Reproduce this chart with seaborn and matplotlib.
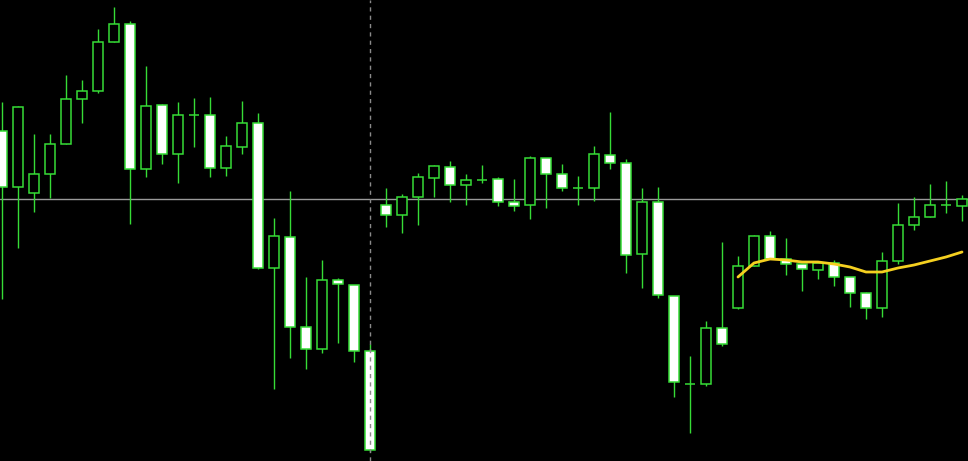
import numpy as np
import pandas as pd
import matplotlib
matplotlib.use("Agg")
import matplotlib.pyplot as plt
import seaborn as sns

# OHLC (price units, higher = up), one entry per bar
opens = [330, 274, 268, 287, 317, 362, 370, 419, 437, 292,
         356, 307, 346, 346, 293, 314, 338, 193, 224, 134,
         112, 181, 176, 110, 256, 246, 264, 283, 294, 276,
         281, 282, 259, 256, 303, 287, 273, 273, 306, 298,
         207, 259, 165, 77, 77, 133, 153, 195, 225, 202,
         197, 191, 198, 184, 168, 153, 200, 236, 244, 256, 255]
highs = [359, 355, 327, 327, 386, 381, 432, 454, 440, 395,
         357, 359, 363, 364, 325, 360, 348, 243, 270, 184,
         201, 183, 176, 117, 273, 267, 288, 296, 300, 287,
         296, 284, 282, 305, 303, 297, 285, 315, 349, 302,
         273, 274, 165, 105, 140, 219, 205, 226, 230, 223,
         197, 200, 201, 184, 169, 209, 258, 264, 277, 280, 266]
lows = [162, 213, 249, 263, 317, 338, 368, 419, 237, 284,
        297, 278, 314, 284, 285, 307, 192, 72, 103, 92,
        108, 118, 99, 9, 234, 228, 236, 264, 259, 256,
        278, 255, 250, 242, 253, 270, 256, 260, 292, 188,
        173, 163, 64, 28, 75, 115, 152, 195, 202, 186,
        170, 182, 175, 154, 142, 144, 197, 231, 244, 248, 240]
closes = [274, 354, 287, 317, 362, 370, 419, 437, 292, 355,
          307, 346, 346, 293, 315, 338, 193, 225, 134, 112,
          181, 177, 110, 11, 246, 264, 284, 295, 276, 281,
          281, 259, 255, 303, 287, 273, 273, 307, 298, 206,
          259, 166, 79, 77, 133, 117, 195, 225, 202, 197,
          192, 198, 184, 168, 153, 200, 236, 244, 256, 256, 262]

# moving average, drawn over the last bars only
ma_start = 46
ma_values = [184, 198, 202, 201, 199, 199, 197, 194, 189, 189,
             193, 196, 200, 204, 209]

hline_price = 262
vline_index = 23

green = "#36dc36"

df = pd.DataFrame({"idx": np.arange(len(closes)), "open": opens, "high": highs,
                   "low": lows, "close": closes})
df["bottom"] = df[["open", "close"]].min(axis=1)
df["height"] = (df["open"] - df["close"]).abs()
df["fill"] = np.where(df["close"] < df["open"], "white", "black")

sns.set_theme(style="dark", rc={"axes.facecolor": "black", "figure.facecolor": "black"})

fig = plt.figure(figsize=(9.68, 4.61), dpi=100)
ax = fig.add_axes([0, 0, 1, 1])
ax.set_facecolor("black")

ax.axhline(hline_price, color="#9a9a9a", lw=1, zorder=1)
ax.axvline(vline_index, color="#8a8a8a", lw=1, ls=(0, (3, 3)), zorder=5)

ax.vlines(df["idx"], df["low"], df["high"], color=green, lw=1.0, zorder=2)
ax.bar(df["idx"], df["height"], bottom=df["bottom"], width=0.64,
       color=df["fill"], edgecolor=green, linewidth=1.1, zorder=3)

ma = pd.DataFrame({"idx": np.arange(ma_start, ma_start + len(ma_values)), "ma": ma_values})
sns.lineplot(data=ma, x="idx", y="ma", ax=ax, color="#f5d020", lw=2, zorder=4)

ax.set_xlim(-0.125, 60.375)
ax.set_ylim(0, 461)
ax.set_axis_off()

fig.savefig("out.png", dpi=100, facecolor="black")
